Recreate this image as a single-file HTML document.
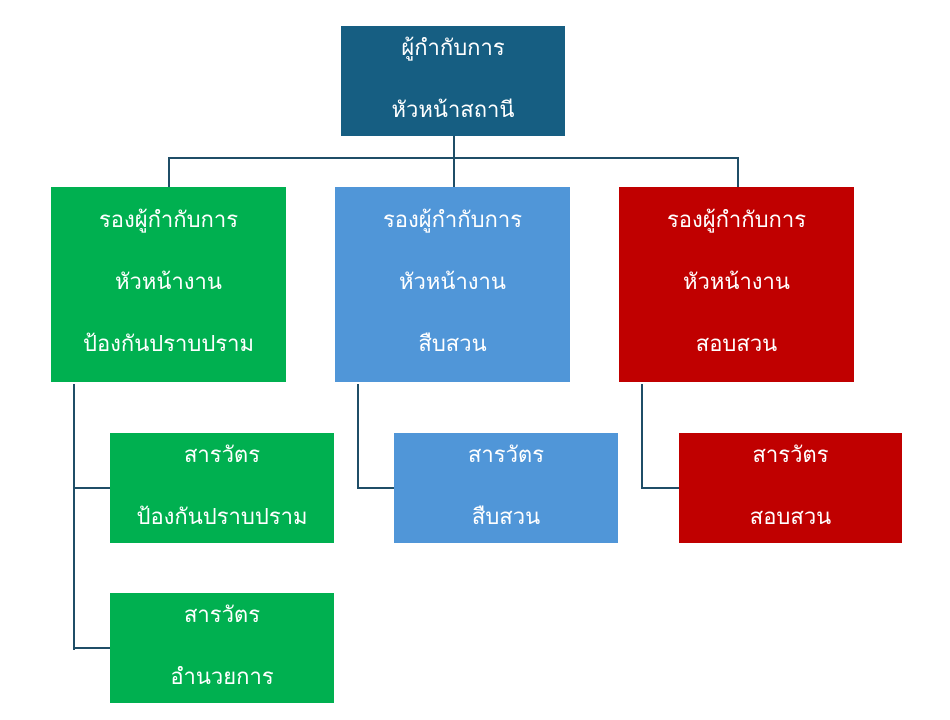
<!DOCTYPE html>
<html><head><meta charset="utf-8"><style>
body{margin:0;width:950px;height:720px;background:#fff;position:relative;overflow:hidden;font-family:"Liberation Sans","DejaVu Sans","Noto Sans CJK SC",sans-serif;}
.b{position:absolute;color:#fff;font-size:22px;text-align:center;}
.b div{position:absolute;left:0;right:0;height:30px;line-height:30px;}
.l{position:absolute;background:#1f4e67;}
</style></head><body>
<div class="b" style="left:341px;top:26px;width:224px;height:110px;background:#165e82">
<div style="top:7px">ผู้กำกับการ</div><div style="top:69px">หัวหน้าสถานี</div></div>
<div class="l" style="left:453px;top:136px;width:2px;height:51px"></div>
<div class="l" style="left:168px;top:157px;width:571px;height:2px"></div>
<div class="l" style="left:168px;top:157px;width:2px;height:30px"></div>
<div class="l" style="left:737px;top:157px;width:2px;height:30px"></div>

<div class="b" style="left:51px;top:187px;width:235px;height:195px;background:#00b050">
<div style="top:18px">รองผู้กำกับการ</div><div style="top:80px">หัวหน้างาน</div><div style="top:142px">ป้องกันปราบปราม</div></div>
<div class="b" style="left:335px;top:187px;width:235px;height:195px;background:#5096d8">
<div style="top:18px">รองผู้กำกับการ</div><div style="top:80px">หัวหน้างาน</div><div style="top:142px">สืบสวน</div></div>
<div class="b" style="left:619px;top:187px;width:235px;height:195px;background:#c00000">
<div style="top:18px">รองผู้กำกับการ</div><div style="top:80px">หัวหน้างาน</div><div style="top:142px">สอบสวน</div></div>

<div class="l" style="left:73px;top:384px;width:2px;height:266px"></div>
<div class="l" style="left:73px;top:487px;width:37px;height:2px"></div>
<div class="l" style="left:73px;top:647px;width:37px;height:2px"></div>
<div class="l" style="left:357px;top:384px;width:2px;height:105px"></div>
<div class="l" style="left:357px;top:487px;width:37px;height:2px"></div>
<div class="l" style="left:641px;top:384px;width:2px;height:105px"></div>
<div class="l" style="left:641px;top:487px;width:38px;height:2px"></div>

<div class="b" style="left:110px;top:433px;width:224px;height:110px;background:#00b050">
<div style="top:7px">สารวัตร</div><div style="top:69px">ป้องกันปราบปราม</div></div>
<div class="b" style="left:394px;top:433px;width:224px;height:110px;background:#5096d8">
<div style="top:7px">สารวัตร</div><div style="top:69px">สืบสวน</div></div>
<div class="b" style="left:679px;top:433px;width:223px;height:110px;background:#c00000">
<div style="top:7px">สารวัตร</div><div style="top:69px">สอบสวน</div></div>
<div class="b" style="left:110px;top:593px;width:224px;height:110px;background:#00b050">
<div style="top:7px">สารวัตร</div><div style="top:69px">อำนวยการ</div></div>
</body></html>
